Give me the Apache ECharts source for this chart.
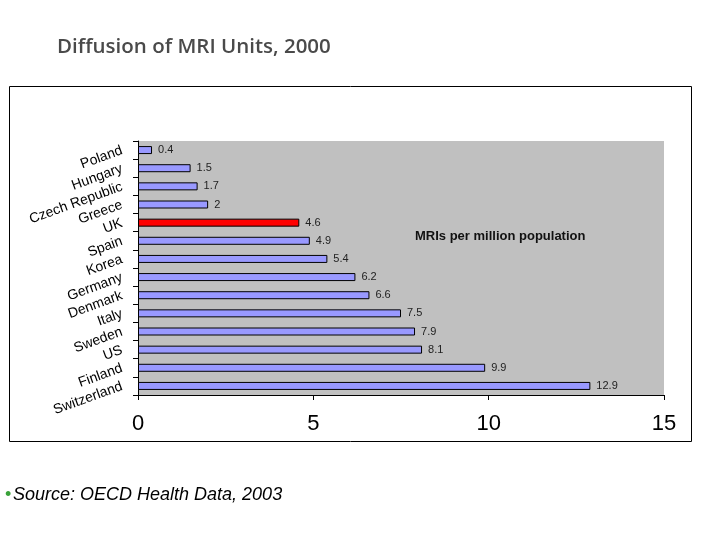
<!DOCTYPE html>
<html>
<head>
<meta charset="utf-8">
<script src="https://cdn.jsdelivr.net/npm/echarts@6/dist/echarts.min.js"></script>
<style>
  html, body { margin: 0; padding: 0; background: #ffffff; }
  #main { width: 720px; height: 540px; }
</style>
</head>
<body>
<div id="main"></div>
<script>
var titleText = 'Diffusion of MRI Units, 2000';
var sourceText = 'Source: OECD Health Data, 2003';
var noteText = 'MRIs per million population';
var countries = ['Poland', 'Hungary', 'Czech Republic', 'Greece', 'UK', 'Spain', 'Korea',
                 'Germany', 'Denmark', 'Italy', 'Sweden', 'US', 'Finland', 'Switzerland'];
var mriPerMillion = [0.4, 1.5, 1.7, 2, 4.6, 4.9, 5.4, 6.2, 6.6, 7.5, 7.9, 8.1, 9.9, 12.9];
var highlightCountry = 'UK';
var xTicks = [0, 5, 10, 15];

var chart = echarts.init(document.getElementById('main'), null, { renderer: 'canvas' });

var barData = mriPerMillion.map(function (v, i) {
  var item = { value: v };
  if (countries[i] === highlightCountry) {
    item.itemStyle = { color: '#FF0000' };
  }
  return item;
});

chart.setOption({
  animation: false,
  backgroundColor: '#ffffff',
  graphic: [
    {
      type: 'rect', z: -10, silent: true,
      shape: { x: 9.5, y: 86.5, width: 682, height: 355 },
      style: { fill: '#ffffff', stroke: '#000000', lineWidth: 1 }
    },
    {
      type: 'text', left: 57, top: 37,
      style: { text: titleText, font: '600 20.5px "Open Sans"', fill: '#4a4a4a' }
    },
    {
      type: 'text', left: 415, top: 230, z: 10,
      style: { text: noteText, font: 'bold 13px "Liberation Sans", Arial', fill: '#111111' }
    },
    {
      type: 'text', left: 5, top: 486,
      style: { text: '\u2022', font: '18px "Liberation Sans", Arial', fill: '#3aa23a' }
    },
    {
      type: 'text', left: 13, top: 486,
      style: { text: sourceText, font: 'italic 18px "Liberation Sans", Arial', fill: '#000000' }
    }
  ],
  grid: {
    left: 138, right: 56, top: 141, bottom: 145,
    show: true, backgroundColor: '#C0C0C0', borderWidth: 0
  },
  xAxis: {
    type: 'value', min: xTicks[0], max: xTicks[xTicks.length - 1], interval: 5,
    axisLine: { show: true, lineStyle: { color: '#000000', width: 1 } },
    axisTick: { show: true, length: 5, lineStyle: { color: '#000000' } },
    splitLine: { show: false },
    axisLabel: {
      margin: 18, fontSize: 22, color: '#000000', fontFamily: '"Liberation Sans", Arial',
      showMaxLabel: true, showMinLabel: true
    }
  },
  yAxis: {
    type: 'category', data: countries, inverse: true,
    axisLine: { show: true, lineStyle: { color: '#000000', width: 1 } },
    axisTick: { show: true, length: 5, lineStyle: { color: '#000000' } },
    axisLabel: {
      rotate: 20, margin: 16, fontSize: 14, color: '#000000',
      fontFamily: '"Liberation Sans", Arial', interval: 0
    }
  },
  series: [{
    type: 'bar',
    data: barData,
    barWidth: 8,
    itemStyle: { color: '#9999FF', borderColor: '#000000', borderWidth: 1 },
    label: {
      show: true, position: 'right', distance: 6,
      fontSize: 11, color: '#222222', fontFamily: '"Liberation Sans", Arial'
    }
  }]
});
</script>
</body>
</html>
